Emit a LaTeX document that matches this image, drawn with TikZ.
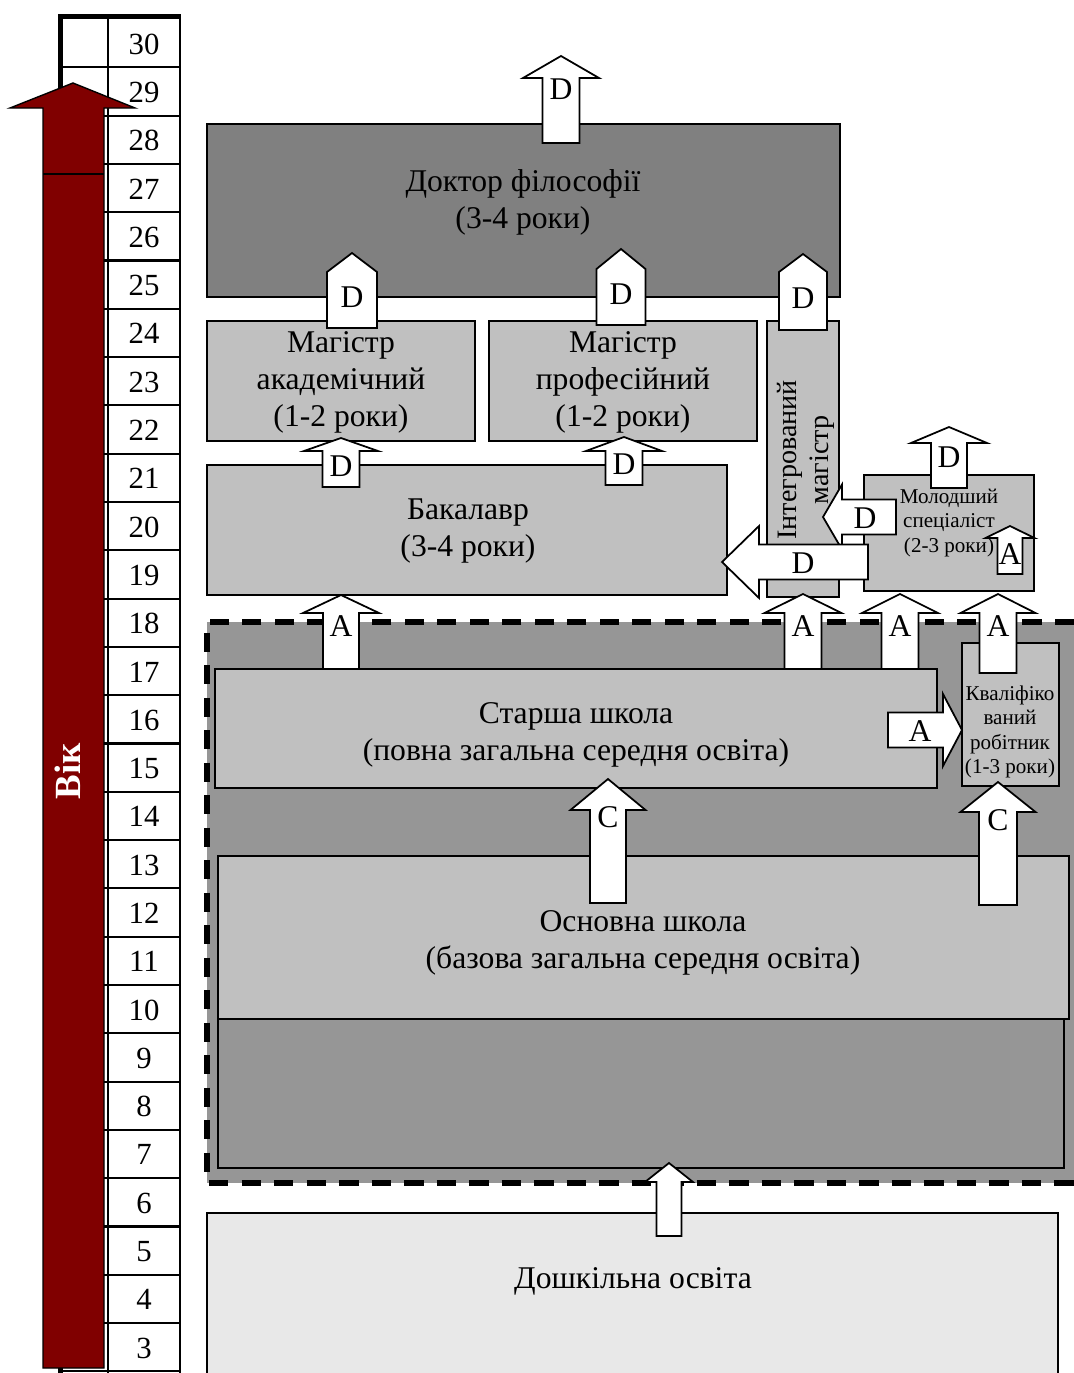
\documentclass[tikz,border=0pt]{standalone}
\usepackage{fontspec}
\setmainfont{Liberation Serif}
\definecolor{agered}{HTML}{800000}
\definecolor{phdgray}{HTML}{808080}
\definecolor{boxgray}{HTML}{C0C0C0}
\definecolor{schoolgray}{HTML}{969696}
\definecolor{palegray}{HTML}{E8E8E8}
\tikzset{
	box/.style={draw=black, line width=1pt},
	blk/.style={draw=black, fill=white, line width=1pt, line join=miter},
	txt/.style={font=\fontsize{18}{21}\selectfont, align=center, inner sep=0pt},
	smalltxt/.style={font=\fontsize{12}{14}\selectfont, align=center, inner sep=0pt},
	lbl/.style={font=\fontsize{18}{21}\selectfont, inner sep=0pt},
	num/.style={font=\fontsize{17.5}{20}\selectfont, inner sep=0pt}
}
% block arrows: vertical (x, tip, head, head half, body half, end), horizontal (y, tip, head, head half, body half, end)
\def\varrow#1#2#3#4#5#6{\draw[blk] (#1,#2) -- ({#1+#4},#3) -- ({#1+#5},#3) -- ({#1+#5},#6) -- ({#1-#5},#6) -- ({#1-#5},#3) -- ({#1-#4},#3) -- cycle;}
\def\harrow#1#2#3#4#5#6{\draw[blk] (#2,#1) -- (#3,{#1-#4}) -- (#3,{#1-#5}) -- (#6,{#1-#5}) -- (#6,{#1+#5}) -- (#3,{#1+#5}) -- (#3,{#1+#4}) -- cycle;}

\begin{document}
\begin{tikzpicture}[x=0.02cm, y=-0.02cm]
			%%%%% START %%%%%
			\useasboundingbox (0,0) rectangle (1074,1373);
			
			% age scale
			\foreach \k in {1,...,28} {\draw[line width=1.2pt] (58,{19+\k*48.3}) -- (180,{19+\k*48.3});}
			\foreach \n [count=\k from 0] in {30,29,...,3} {\node[num] (age\n) at (144,{44+\k*48.3}) {\n};}
			\draw[line width=1.2pt] (108,19) -- (108,1373);
			\draw[line width=1.2pt] (180,19) -- (180,1373);
			\draw[line width=3pt] (60.5,1373) -- (60.5,16.5) -- (180.5,16.5);
			
			\draw[fill=agered, line width=0.8pt] (43,1368) -- (43,108) -- (10,108) -- (73,83) -- (135,108) -- (104,108) -- (104,1368) -- cycle;
			\draw[line width=0.8pt] (43,174) -- (104,174);
			\node[rotate=90, text=white, font=\fontsize{21}{24}\selectfont\bfseries] (vik) at (68,771) {Вік};
			
			% higher education
			\draw[box, fill=phdgray] (207,124) rectangle (840,297);
			\node[txt] (phd) at (523,202) {Доктор філософії\\(3-4 роки)};
			
			\draw[box, fill=boxgray] (207,321) rectangle (475,441);
			\node[txt] (magacad) at (341,382) {Магістр\\академічний\\(1-2 роки)};
			\draw[box, fill=boxgray] (489,321) rectangle (757,441);
			\node[txt] (magprof) at (623,382) {Магістр\\професійний\\(1-2 роки)};
			\draw[box, fill=boxgray] (767,321) rectangle (839,597);
			\node[txt, rotate=90, font=\fontsize{16}{18}\selectfont] (magint) at (806,460) {Інтегрований\\магістр};
			
			\draw[box, fill=boxgray] (207,465) rectangle (727,595);
			\node[txt] (bach) at (468,531) {Бакалавр\\(3-4 роки)};
			
			\draw[box, fill=boxgray] (864,475) rectangle (1034,591);
			\node[smalltxt] (junior) at (949,523) {Молодший\\спеціаліст\\(2-3 роки)};
			
			% school
			\fill[schoolgray] (207,622) rectangle (1074,1183);
			\draw[line width=3pt, dash pattern=on 11pt off 7.5pt] (1074,622) -- (207,622) -- (207,1183) -- (1074,1183);
			
			\draw[box, fill=boxgray] (215,669) rectangle (937,788);
			\node[txt] (senior) at (576,735) {Старша школа\\(повна загальна середня освіта)};
			\draw[box, fill=boxgray] (962,643) rectangle (1059,786);
			\node[smalltxt] (worker) at (1010,732) {Кваліфіко\\ваний\\робітник\\(1-3 роки)};
			
			\draw[box, fill=schoolgray] (218,900) rectangle (1064,1168);
			\draw[box, fill=boxgray] (218,856) rectangle (1069,1019);
			\node[txt] (basic) at (643,943) {Основна школа\\(базова загальна середня освіта)};
			
			\draw[box, fill=palegray] (207,1213) rectangle (1058,1390);
			\node[txt] (preschool) at (633,1281) {Дошкільна освіта};
			
			% arrows
			\varrow{561}{56}{78}{38}{18.5}{143}
			\node[lbl] (d1) at (561,89) {D};
			\varrow{352}{253}{272}{25}{25}{328}
			\node[lbl] (d2) at (352,297) {D};
			\varrow{621}{249}{269}{24.5}{24.5}{325}
			\node[lbl] (d3) at (621,294) {D};
			\varrow{803}{254}{272}{24}{24}{330}
			\node[lbl] (d4) at (803,298) {D};
			\varrow{341}{438}{451}{37}{18.5}{487}
			\node[lbl] (d5) at (341,466) {D};
			\varrow{624}{437}{451}{38}{18.5}{485}
			\node[lbl] (d6) at (624,464) {D};
			\varrow{949}{427}{443}{38}{18}{488}
			\node[lbl] (d7) at (949,457) {D};
			\varrow{1010}{526}{538}{24.5}{12.5}{574}
			\node[lbl] (a1) at (1010,554) {A};
			
			\harrow{517}{823}{842}{32.5}{17.5}{896}
			\node[lbl] (d8) at (865,518) {D};
			\harrow{562}{722}{759}{36}{17.5}{868}
			\node[lbl] (d9) at (803,563) {D};
			
			\varrow{341}{595}{613}{38}{18}{669}
			\node[lbl] (a2) at (341,626) {A};
			\varrow{803}{594}{613}{38.5}{18.5}{669}
			\node[lbl] (a3) at (803,626) {A};
			\varrow{900}{594}{613}{38}{18.5}{669}
			\node[lbl] (a4) at (900,626) {A};
			\varrow{998}{594}{613}{37.5}{18.5}{673}
			\node[lbl] (a5) at (998,626) {A};
			
			\harrow{730}{962}{943}{36}{17.5}{888}
			\node[lbl] (a6) at (920,731) {A};
			
			\varrow{608}{779}{810}{37.5}{18}{903}
			\node[lbl] (c1) at (608,817) {C};
			\varrow{998}{782}{812}{37.5}{19}{905}
			\node[lbl] (c2) at (998,820) {C};
			
			\varrow{669}{1163}{1182}{24}{12.5}{1236}
			%%%%% END %%%%%
\end{tikzpicture}
\end{document}
